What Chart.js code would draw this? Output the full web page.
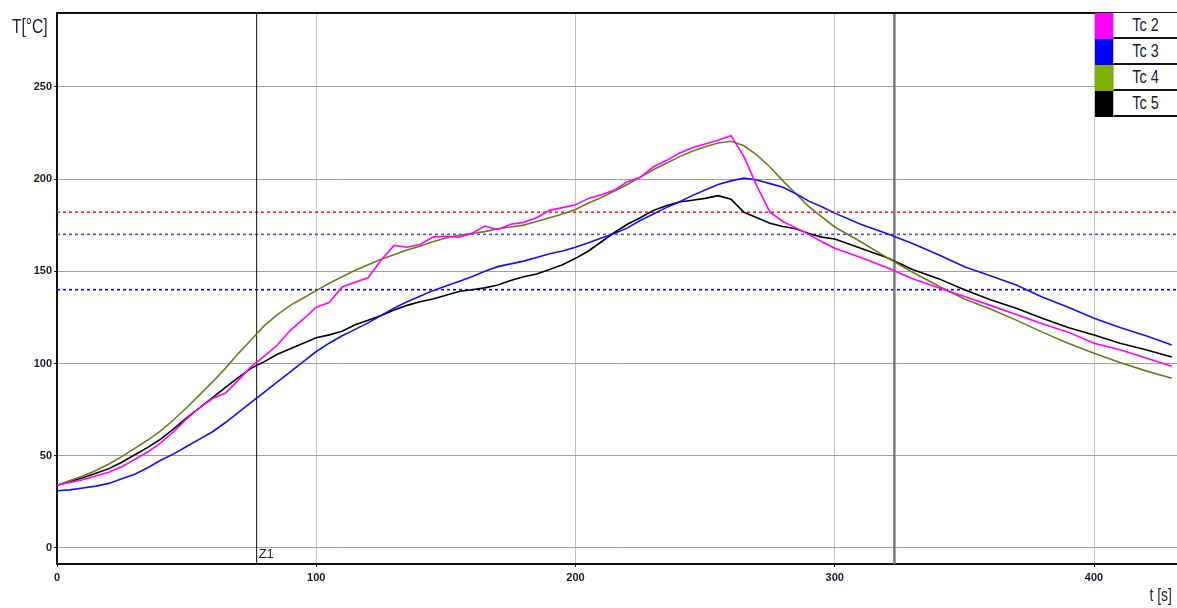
<!DOCTYPE html>
<html>
<head>
<meta charset="utf-8">
<script src="https://cdn.jsdelivr.net/npm/chart.js@4.4.1/dist/chart.umd.min.js"></script>
<style>
html,body{margin:0;padding:0;background:#fff;width:1177px;height:608px;overflow:hidden;}
#wrap{position:relative;width:1177px;height:608px;}
#c{position:absolute;left:0;top:0;}
.ax{position:absolute;font-family:'Liberation Sans Narrow','Liberation Sans',Arial,sans-serif;color:#1c1c4a;line-height:1;white-space:nowrap;transform:scaleX(0.78);}
#legend{position:absolute;left:1095px;top:13px;width:82px;background:#fff;}
.row{display:flex;height:26px;}
.sw{width:18px;height:26px;}
.lbl{flex:1;height:24px;border-bottom:2px solid #111;border-left:1px solid #bbb;text-align:center;font-family:'Liberation Sans Narrow','Liberation Sans',Arial,sans-serif;font-size:18px;line-height:25px;color:#1c1c3a;}
.lbl span{display:inline-block;transform:scaleX(0.8);}
</style>
</head>
<body>
<div id="wrap">
<canvas id="c" width="1177" height="608"></canvas>
<div class="ax" style="left:12px;top:16px;font-size:20px;transform-origin:left top;">T[°C]</div>
<div class="ax" style="right:5px;top:586px;font-size:18px;transform-origin:right top;">t [s]</div>
<div id="legend"></div>
</div>
<script>
// ---- data ----
const times = [0,5,10,15,20,25,30,35,40,45,50,55,60,65,70,75,80,85,90,95,100,105,110,115,120,125,130,135,140,145,150,155,160,165,170,175,180,185,190,195,200,205,210,215,220,225,230,235,240,245,250,255,260,265,270,275,280,285,290,295,300,310,320,330,340,350,360,370,380,390,400,410,420,430];
const tc2 = [34,35.5,37,39,41,44,48,52,57,63,70,76,81,84,91,98.5,104,110,118,124,130.5,133,141.5,144,146.5,156,164,163,164.5,168.5,169,168.5,170.5,174.5,172.5,175.5,176.5,179,183,184.5,186,189.5,191.5,194,198.5,201,206.5,210,214,217,219,221,223.5,212,196,182,177,173.5,170,166,162.5,157.5,152,146,141,136.3,131.5,126.5,121.5,117,111,107.5,103,98.5];
const tc3 = [31,31.5,32.5,33.5,35,37.5,40,43.5,47.5,51,55,59,63,68,73.5,79,84.5,90,95.5,101,106.5,111,115,118.5,122,126,130,133.5,136.5,139.5,142,144.5,147,150,152.5,154,155.5,157.5,159.5,161,163,165.5,168,170.5,173.5,177.5,181,184.5,187.5,191,194,197,199,200.5,199.5,197.5,195.5,192,188,185,181.5,175.5,170.5,165,159,152.5,147.5,142.5,136,130.5,124.5,119.5,115,110];
const tc4 = [34,36.5,39,42,45.5,49.5,54,58.5,63.5,69.5,76,83,90,97.5,105.5,113,120.5,126.5,131.5,135.5,139.5,143.5,147,150.5,153.5,156.5,159,161.5,163.5,166,168,169.5,170.5,171.5,173,174,175,177,179,181,183.5,187,190,193.5,197,201,205,208.5,212,215,217.5,219.5,220.5,218,213,206.5,199,192,185,179.5,174,166,157.5,149.5,142,135,129.5,123.5,117,111,105.5,100.5,96,92];
const tc5 = [34,36,38,40.5,43,46.5,50.5,54.5,59,64.5,70.5,76,81.5,87,92.5,97.5,101,105,108,111,114,115.5,117.5,121,123.5,126,129,131.5,133.5,135,137,139,140,141,142.5,145,147,148.5,151,153.5,157,161,166,171,175.5,179,183,185.5,187.5,188.5,189.5,191,189,182,179,176,174.3,173,170.5,168.5,167.5,162.5,157.5,151,146,140,134.5,130,124.5,119.5,115.5,111,107.5,103.5];
const seriesNames = ['Tc 2','Tc 3','Tc 4','Tc 5'];
const seriesValues = [tc2, tc3, tc4, tc5];
const lineColors = ['#ff00ff','#1010ff','#6f7a1e','#000000'];
const swatchColors = ['#ff00ff','#0000ff','#80b000','#000000'];
const limitValues = [182, 170, 140];
const limitColors = ['#ff1a1a','#4a4ae0','#0000ff'];
const cursorTimes = [77, 323];
const cursorLabels = ['Z1', ''];
const cursorColors = ['#111111','#7a7a7a'];
const cursorWidths = [1, 2.5];
const xTicks = [0,100,200,300,400];
const yTicks = [0,50,100,150,200,250];
const xMin = 0, xMax = 432, yMin = -8.7, yMax = 290;

// ---- legend (HTML) ----
const leg = document.getElementById('legend');
seriesNames.forEach((n,i)=>{
  const r = document.createElement('div'); r.className='row';
  const s = document.createElement('div'); s.className='sw'; s.style.background=swatchColors[i];
  const l = document.createElement('div'); l.className='lbl';
  const sp = document.createElement('span'); sp.textContent=n; l.appendChild(sp);
  r.appendChild(s); r.appendChild(l); leg.appendChild(r);
});

// ---- datasets ----
const datasets = [];
seriesValues.forEach((vals,i)=>{
  datasets.push({label:seriesNames[i], data: times.map((t,k)=>({x:t,y:vals[k]})),
    borderColor:lineColors[i], borderWidth:1.6, pointRadius:0, tension:0, order:0});
});
limitValues.forEach((v,i)=>{
  datasets.push({label:'limit'+i, data:[{x:xMin,y:v},{x:xMax,y:v}], borderColor:limitColors[i],
    borderWidth:1.6, borderDash:[3,3], pointRadius:0, order:2});
});
cursorTimes.forEach((c,i)=>{
  datasets.push({label:'cursor'+i, data:[{x:c,y:yMin},{x:c,y:yMax}], borderColor:cursorColors[i],
    borderWidth:cursorWidths[i], pointRadius:0, order:1});
});

const tickFont = {family:"'Liberation Sans Narrow','Liberation Sans',Arial,sans-serif", size:11, weight:'bold'};

const framePlugin = {
  id:'frame',
  afterDraw(chart){
    const {ctx, chartArea:a, scales} = chart;
    ctx.save();
    ctx.strokeStyle='#111'; ctx.lineWidth=2;
    ctx.beginPath(); ctx.moveTo(a.left, a.top); ctx.lineTo(a.right, a.top); ctx.stroke();
    ctx.fillStyle='#222';
    ctx.font="13px 'Liberation Sans', Arial, sans-serif";
    ctx.textBaseline='bottom';
    cursorTimes.forEach((c,i)=>{
      if(!cursorLabels[i]) return;
      ctx.fillText(cursorLabels[i], scales.x.getPixelForValue(c)+2, a.bottom-3);
    });
    ctx.restore();
  }
};

new Chart(document.getElementById('c'), {
  type:'line',
  data:{datasets},
  options:{
    responsive:false, animation:false,
    layout:{padding:{top:13,right:0,left:0,bottom:0}},
    plugins:{legend:{display:false}, tooltip:{enabled:false}},
    scales:{
      x:{type:'linear', min:xMin, max:xMax,
        afterBuildTicks(s){ s.ticks = xTicks.map(v=>({value:v})); },
        afterFit(s){ s.height = 44; },
        grid:{color:'#c4c4c4', lineWidth:1, tickLength:3, tickColor:'#222'},
        border:{color:'#111', width:2},
        ticks:{font:tickFont, color:'#1a1a2e', padding:4, maxRotation:0}
      },
      y:{type:'linear', min:yMin, max:yMax,
        afterBuildTicks(s){ s.ticks = yTicks.map(v=>({value:v})); },
        afterFit(s){ s.width = 57; },
        grid:{color:'#a0a0a0', lineWidth:1, tickLength:3, tickColor:'#222'},
        border:{color:'#111', width:2},
        ticks:{font:tickFont, color:'#1a1a2e', padding:2}
      }
    }
  },
  plugins:[framePlugin]
});
</script>
</body>
</html>
